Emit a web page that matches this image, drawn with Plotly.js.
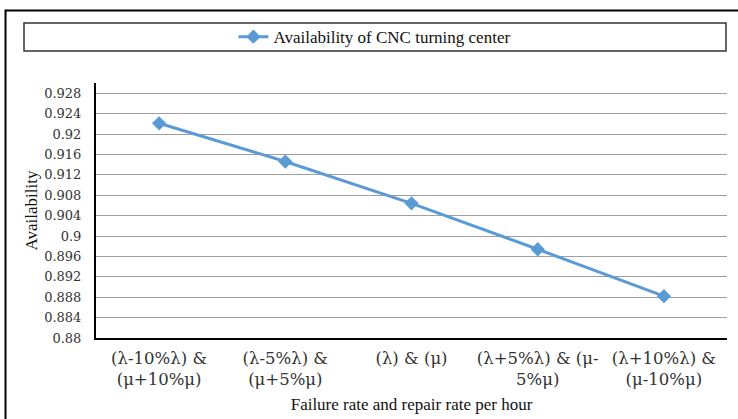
<!DOCTYPE html>
<html>
<head>
<meta charset="utf-8">
<script src="https://cdn.plot.ly/plotly-3.0.1.min.js"></script>
<style>html,body{margin:0;padding:0;background:#fff;}#chart{width:738px;height:419px;}</style>
</head>
<body>
<div id="chart"></div>
<script>
const categories = [
  "(λ-10%λ) &<br>(μ+10%μ)",
  "(λ-5%λ) &<br>(μ+5%μ)",
  "(λ) & (μ)",
  "(λ+5%λ) & (μ-<br>5%μ)",
  "(λ+10%λ) &<br>(μ-10%μ)"
];
const availability = [0.9221, 0.9146, 0.9064, 0.8974, 0.8882];
const seriesName = "Availability of CNC turning center";
const yTickVals = [0.88, 0.884, 0.888, 0.892, 0.896, 0.9, 0.904, 0.908, 0.912, 0.916, 0.92, 0.924, 0.928];
const yTickText = ["0.88", "0.884", "0.888", "0.892", "0.896", "0.9", "0.904", "0.908", "0.912", "0.916", "0.92", "0.924", "0.928"];

const serif = "Liberation Serif, Times New Roman, serif";
const wideSerif = "DejaVu Serif, serif";

const trace = {
  x: categories,
  y: availability,
  type: "scatter",
  mode: "lines+markers",
  name: seriesName,
  line: {color: "#5B9BD5", width: 3},
  marker: {symbol: "diamond", size: 11, color: "#5B9BD5"},
  showlegend: true
};

const layout = {
  width: 738, height: 419,
  margin: {l: 96, r: 11, t: 83, b: 81},
  paper_bgcolor: "#fff", plot_bgcolor: "#fff",
  font: {family: serif, color: "#222", size: 14},
  showlegend: true,
  legend: {
    orientation: "h", x: 0.442, xanchor: "center", y: 1.18, yanchor: "middle",
    font: {family: serif, size: 17, color: "#111"},
    bgcolor: "rgba(0,0,0,0)", borderwidth: 0
  },
  xaxis: {
    type: "category",
    showline: true, linecolor: "#000", linewidth: 2,
    showgrid: false, ticks: "", ticklabelstandoff: 4,
    tickfont: {family: wideSerif, size: 16.5, color: "#333"},
    title: {text: "Failure rate and repair rate per hour", font: {family: serif, size: 17, color: "#111"}, standoff: 10},
    range: [-0.5, 4.5]
  },
  yaxis: {
    range: [0.88, 0.93],
    tickvals: yTickVals, ticktext: yTickText,
    showline: true, linecolor: "#000", linewidth: 2,
    showgrid: true, gridcolor: "#a0a0a0", gridwidth: 1,
    zeroline: false, ticks: "", ticklabelstandoff: 10,
    tickfont: {family: wideSerif, size: 13, color: "#333"},
    title: {text: "Availability", font: {family: serif, size: 17, color: "#111"}, standoff: 2}
  },
  shapes: [
    {type: "rect", xref: "paper", yref: "paper", x0: -0.1434, x1: 1.05, y0: -0.4, y1: 1.284,
     line: {color: "#000", width: 2}, fillcolor: "rgba(0,0,0,0)"},
    {type: "rect", xref: "paper", yref: "paper", x0: -0.1141, x1: 0.9984, y0: 1.1255, y1: 1.2353,
     line: {color: "#333", width: 1.5}, fillcolor: "rgba(0,0,0,0)"}
  ]
};

Plotly.newPlot("chart", [trace], layout, {staticPlot: true, displayModeBar: false});
</script>
</body>
</html>
